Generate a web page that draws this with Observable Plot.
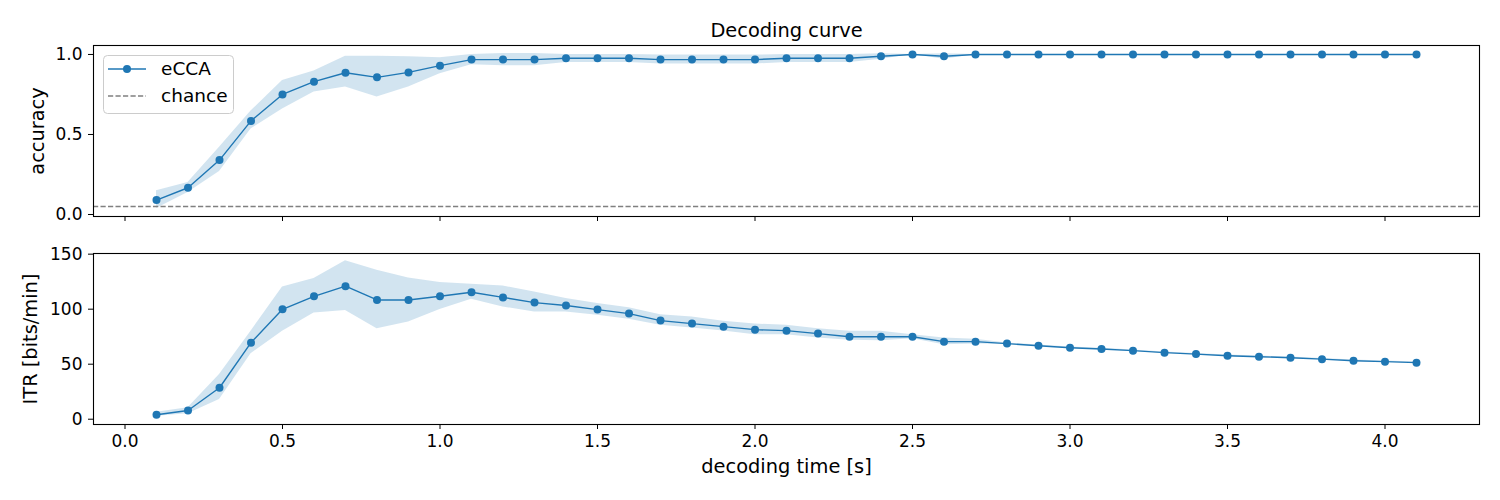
<!DOCTYPE html>
<html>
<head>
<meta charset="utf-8">
<script src="https://cdn.jsdelivr.net/npm/d3@7"></script>
<script src="https://cdn.jsdelivr.net/npm/@observablehq/plot@0.6"></script>
<style>
  body { margin: 0; background: white; }
  #wrap { position: relative; width: 1500px; height: 500px; font-family: "DejaVu Sans", sans-serif; }
  #wrap svg { display: block; }
  #legend { position: absolute; left: 0; top: 0; }
</style>
</head>
<body>
<div id="wrap"></div>
<script>
// ---- data ----
const times = [0.1,0.2,0.3,0.4,0.5,0.6,0.7,0.8,0.9,1.0,1.1,1.2,1.3,1.4,1.5,1.6,1.7,1.8,1.9,2.0,2.1,2.2,2.3,2.4,2.5,2.6,2.7,2.8,2.9,3.0,3.1,3.2,3.3,3.4,3.5,3.6,3.7,3.8,3.9,4.0,4.1];
const accMean = [0.09,0.167,0.34,0.585,0.75,0.83,0.886,0.857,0.888,0.93,0.968,0.968,0.968,0.976,0.976,0.976,0.968,0.968,0.968,0.968,0.976,0.976,0.976,0.989,1.0,0.989,1,1,1,1,1,1,1,1,1,1,1,1,1,1,1];
const accLow  = [0.038,0.138,0.268,0.535,0.66,0.765,0.796,0.734,0.796,0.88,0.935,0.93,0.93,0.95,0.95,0.95,0.94,0.94,0.94,0.94,0.95,0.95,0.95,0.97,1.0,0.97,1,1,1,1,1,1,1,1,1,1,1,1,1,1,1];
const accHigh = [0.149,0.2,0.42,0.646,0.838,0.897,0.989,0.989,0.985,0.98,1.0,1.006,1.006,1.0,1.0,1.0,0.996,0.996,0.996,0.996,1.0,1.0,1.0,1.005,1.0,1.005,1,1,1,1,1,1,1,1,1,1,1,1,1,1,1];
const itrMean = [4.0,7.9,28.6,69.6,99.9,111.7,120.9,108.4,108.4,111.7,115.4,110.7,106,103.3,99.6,96,89.6,86.9,84.1,81.4,80.5,77.8,75,75,75,70.5,70.5,68.7,66.8,65,63.8,62.3,60.5,59.2,57.7,56.8,55.9,54.6,53.2,52.3,51.4];
const itrLow  = [2.7,4.9,17.9,59.6,79.9,96.5,98.7,82.3,88.3,99.6,109,102,97.5,97.5,94.4,90.8,85.3,82.9,80.2,76.8,76.8,73.8,71.7,71.4,73.2,67.7,68.3,68.1,66.2,64.4,63.2,61.7,59.9,58.6,57.1,56.2,55.3,54.0,52.6,51.7,50.8];
const itrHigh = [6.4,10.4,40.7,79.9,120.2,127.9,143.9,135.4,128.4,124.2,122.7,121.1,115.7,109.6,105.1,101.4,95,92.9,89,86.5,85.3,82.3,79.9,79.9,76.8,73.8,72.6,69.3,67.4,65.6,64.4,62.9,61.1,59.8,58.3,57.4,56.5,55.2,53.8,52.9,52.0];
const chance = 0.05;
const xTicks = [0,0.5,1.0,1.5,2.0,2.5,3.0,3.5,4.0];
const accTicks = [0,0.5,1.0];
const itrTicks = [0,50,100,150];
const seriesName = "eCCA";
const chanceName = "chance";
const titleText = "Decoding curve";
const xLabel = "decoding time [s]";
const accLabel = "accuracy";
const itrLabel = "ITR [bits/min]";

const rows = times.map((t, i) => ({t, acc: accMean[i], accLo: accLow[i], accHi: accHigh[i], itr: itrMean[i], itrLo: itrLow[i], itrHi: itrHigh[i]}));

const C = "#1f77b4";
const FONT = "DejaVu Sans";
const tickFs = 17;
const labelFs = 19.4;
const common = {
  width: 1500, marginLeft: 93, marginRight: 21,
  x: {domain: [-0.1, 4.3]},
  style: {fontFamily: FONT, fontSize: tickFs + "px", color: "black", background: "white", overflow: "visible"}
};

const topPlot = Plot.plot({
  ...common,
  height: 236, marginTop: 45, marginBottom: 20,
  y: {domain: [-0.0125, 1.056]},
  marks: [
    Plot.areaY(rows, {x: "t", y1: "accLo", y2: "accHi", fill: C, fillOpacity: 0.2}),
    Plot.ruleY([chance], {stroke: "#808080", strokeWidth: 1.4, strokeDasharray: "5.2,2.3"}),
    Plot.lineY(rows, {x: "t", y: "acc", stroke: C, strokeWidth: 1.4}),
    Plot.dot(rows, {x: "t", y: "acc", fill: C, r: 4}),
    Plot.axisX({ticks: xTicks, tickFormat: () => "", tickSize: 5, label: null}),
    Plot.axisY({ticks: accTicks, tickFormat: d3.format(".1f"), tickSize: 5, tickPadding: 6, label: null}),
    Plot.frame({stroke: "black", strokeWidth: 1.1}),
    Plot.text([titleText], {frameAnchor: "top", dy: -15, lineAnchor: "middle", textAnchor: "middle", text: d => d, fontSize: labelFs}),
    Plot.text([accLabel], {frameAnchor: "left", dx: -56, rotate: -90, lineAnchor: "middle", textAnchor: "middle", text: d => d, fontSize: labelFs})
  ]
});

const bottomPlot = Plot.plot({
  ...common,
  height: 264, marginTop: 17, marginBottom: 76,
  y: {domain: [-4.8, 150.6]},
  marks: [
    Plot.areaY(rows, {x: "t", y1: "itrLo", y2: "itrHi", fill: C, fillOpacity: 0.2}),
    Plot.lineY(rows, {x: "t", y: "itr", stroke: C, strokeWidth: 1.4}),
    Plot.dot(rows, {x: "t", y: "itr", fill: C, r: 4}),
    Plot.axisX({ticks: xTicks, tickFormat: d3.format(".1f"), tickSize: 5, tickPadding: 5, label: null}),
    Plot.axisY({ticks: itrTicks, tickFormat: d3.format("d"), tickSize: 5, tickPadding: 6, label: null}),
    Plot.frame({stroke: "black", strokeWidth: 1.1}),
    Plot.text([xLabel], {frameAnchor: "bottom", dy: 42, lineAnchor: "middle", textAnchor: "middle", text: d => d, fontSize: labelFs}),
    Plot.text([itrLabel], {frameAnchor: "left", dx: -63, rotate: -90, lineAnchor: "middle", textAnchor: "middle", text: d => d, fontSize: labelFs})
  ]
});

const wrap = document.getElementById("wrap");
wrap.appendChild(topPlot);
wrap.appendChild(bottomPlot);

// legend overlay (inside the top panel, upper left)
const ns = "http://www.w3.org/2000/svg";
const leg = document.createElementNS(ns, "svg");
leg.setAttribute("id", "legend");
leg.setAttribute("width", 260);
leg.setAttribute("height", 130);
leg.innerHTML = `
  <rect x="103.5" y="55.5" width="130" height="58" rx="4" ry="4" fill="white" fill-opacity="0.8" stroke="#cccccc" stroke-width="1"/>
  <line x1="108" x2="146" y1="69" y2="69" stroke="${C}" stroke-width="1.4"/>
  <circle cx="127" cy="69" r="4" fill="${C}"/>
  <text x="161" y="69" dy="0.35em" font-family="${FONT}" font-size="18.5px" fill="black">${seriesName}</text>
  <line x1="108" x2="146" y1="96" y2="96" stroke="#808080" stroke-width="1.4" stroke-dasharray="5.2,2.3"/>
  <text x="161" y="96" dy="0.35em" font-family="${FONT}" font-size="18.5px" fill="black">${chanceName}</text>
`;
wrap.appendChild(leg);
</script>
</body>
</html>
